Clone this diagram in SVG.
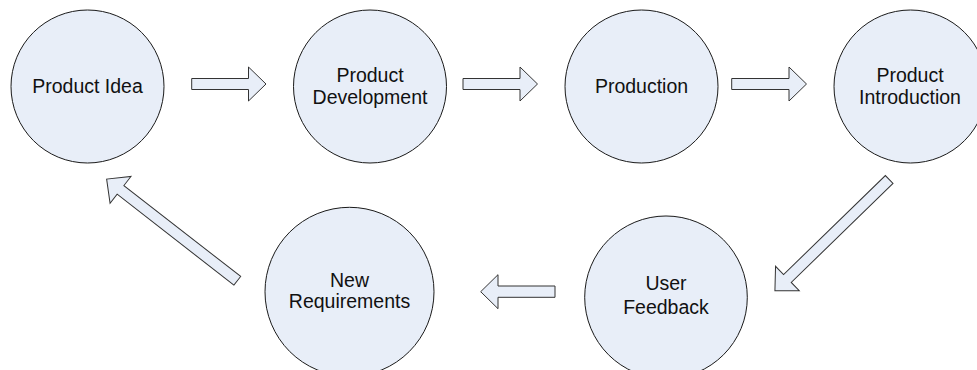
<svg xmlns="http://www.w3.org/2000/svg" width="977" height="370" viewBox="0 0 977 370">
<style>
.node{fill:#E8EEF8;stroke:#1a1a1a;stroke-width:1}
.arrow{fill:#E8EEF8;stroke:#333;stroke-width:1;stroke-linejoin:miter}
.lbl{font-family:"Liberation Sans",Arial,sans-serif;font-size:19.5px;fill:#111;text-anchor:middle}
</style>
<rect width="977" height="370" fill="#fff"/>
<g id="connectors">
<path class="arrow" d="M191.7,78.5 H248.5 V67 L266,84 L248.5,101 V89.5 H191.7 Z"/>
<path class="arrow" d="M463,78.5 H520 V67 L537.5,84 L520,101 V89.5 H463 Z"/>
<path class="arrow" d="M731.7,78.5 H789 V67 L806.5,84 L789,101 V89.5 H731.7 Z"/>
<path class="arrow" transform="translate(889.2,179.5) rotate(135.8)" d="M0,-5.5 H142 V-17 L159.4,0 L142,17 V5.5 H0 Z"/>
<path class="arrow" d="M555,286 H498 V274.7 L480.7,291.7 L498,308.7 V297.3 H555 Z"/>
<path class="arrow" transform="translate(237.3,280.8) rotate(217.9)" d="M0,-5.5 H148 V-17 L165.6,0 L148,17 V5.5 H0 Z"/>
</g>
<g id="product-idea">
<circle class="node" cx="87.5" cy="86.5" r="76.5"/>
<text class="lbl" x="87.5" y="93.3">Product Idea</text>
</g>
<g id="product-development">
<circle class="node" cx="370" cy="86.5" r="76.5"/>
<text class="lbl" x="370" y="81.5">Product</text>
<text class="lbl" x="370" y="103.5">Development</text>
</g>
<g id="production">
<circle class="node" cx="641.5" cy="86.5" r="76.5"/>
<text class="lbl" x="641.5" y="93.3">Production</text>
</g>
<g id="product-introduction">
<circle class="node" cx="910.5" cy="86.5" r="76.5"/>
<text class="lbl" x="910" y="81.5">Product</text>
<text class="lbl" x="910" y="103.5">Introduction</text>
</g>
<g id="user-feedback">
<circle class="node" cx="666" cy="297.3" r="81.3"/>
<text class="lbl" x="666" y="290">User</text>
<text class="lbl" x="666" y="314">Feedback</text>
</g>
<g id="new-requirements">
<circle class="node" cx="349.5" cy="291.8" r="84.5"/>
<text class="lbl" x="349.5" y="286.7">New</text>
<text class="lbl" x="349.5" y="308.3">Requirements</text>
</g>
</svg>
